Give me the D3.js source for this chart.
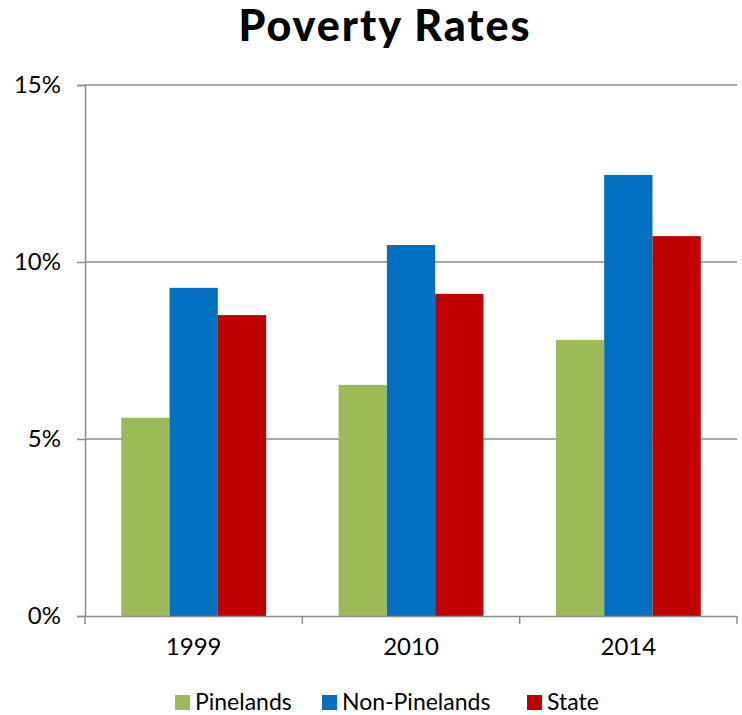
<!DOCTYPE html>
<html><head><meta charset="utf-8">
<script src="https://cdn.jsdelivr.net/npm/d3@7"></script>
<style>body{margin:0;background:#fff}svg{display:block}</style>
</head><body>
<script>
const categories = ["1999", "2010", "2014"];
const seriesNames = ["Pinelands", "Non-Pinelands", "State"];
const pinelands = [5.6, 6.53, 7.8];
const nonPinelands = [9.27, 10.48, 12.46];
const state = [8.5, 9.1, 10.73];
const yTicks = [0, 5, 10, 15];
const colors = ["#9BBB59", "#0070C0", "#C00000"];

const seriesValues = [pinelands, nonPinelands, state];
const W = 742, H = 715;
const font = "Lato, 'Open Sans', sans-serif";
const svg = d3.select("body").append("svg").attr("width", W).attr("height", H);

const x0 = d3.scaleBand().domain(categories).range([85, 737]);
const bw = x0.bandwidth();
const x1 = d3.scaleBand().domain(seriesNames).range([bw / 6, bw * 5 / 6]);
const y = d3.scaleLinear().domain([0, 15]).range([616, 85]);

// gridlines
svg.append("g").selectAll("line").data(yTicks.filter(d => d > 0)).join("line")
  .attr("x1", 85).attr("x2", 737).attr("y1", d => y(d)).attr("y2", d => y(d))
  .attr("stroke", "#8c8c8c").attr("stroke-width", 1.5);

// bars
categories.forEach((c, i) => {
  seriesNames.forEach((s, j) => {
    svg.append("rect")
      .attr("x", x0(c) + x1(s)).attr("width", x1.bandwidth())
      .attr("y", y(seriesValues[j][i])).attr("height", y(0) - y(seriesValues[j][i]))
      .attr("fill", colors[j]);
  });
});

// y axis
const yAxis = svg.append("g").attr("transform", "translate(85,0)")
  .call(d3.axisLeft(y).tickValues(yTicks).tickFormat(d => d + "%").tickSize(8).tickPadding(16));
yAxis.select(".domain").attr("stroke", "#8c8c8c").attr("stroke-width", 1.5);
yAxis.selectAll(".tick line").attr("stroke", "#8c8c8c").attr("stroke-width", 1.5);
yAxis.selectAll("text").attr("font-family", font).attr("font-size", 24).attr("fill", "#000");

// x axis
const xAxis = svg.append("g").attr("transform", "translate(0,616)")
  .call(d3.axisBottom(x0).tickSize(0).tickPadding(22));
xAxis.select(".domain").attr("stroke", "#8c8c8c").attr("stroke-width", 1.5);
xAxis.selectAll("text").attr("font-family", font).attr("font-size", 24).attr("fill", "#000");
const bounds = [85].concat(categories.map(c => x0(c) + bw));
svg.append("g").selectAll("line").data(bounds).join("line")
  .attr("x1", d => d).attr("x2", d => d).attr("y1", 616).attr("y2", 624)
  .attr("stroke", "#8c8c8c").attr("stroke-width", 1.5);

// title
svg.append("text").attr("x", 385).attr("y", 41).attr("text-anchor", "middle")
  .attr("font-family", font).attr("font-weight", 900).attr("font-size", 43)
  .attr("letter-spacing", 2)
  .attr("fill", "#000").text("Poverty Rates");

// legend
const legendX = [175, 322, 527];
const lg = svg.append("g").selectAll("g").data(seriesNames).join("g")
  .attr("transform", (d, i) => `translate(${legendX[i]},695)`);
lg.append("rect").attr("width", 15).attr("height", 15).attr("fill", (d, i) => colors[i]);
lg.append("text").attr("x", 20).attr("y", 15).attr("font-family", font).attr("font-size", 23)
  .attr("fill", "#000").text(d => d);
</script>
</body></html>
